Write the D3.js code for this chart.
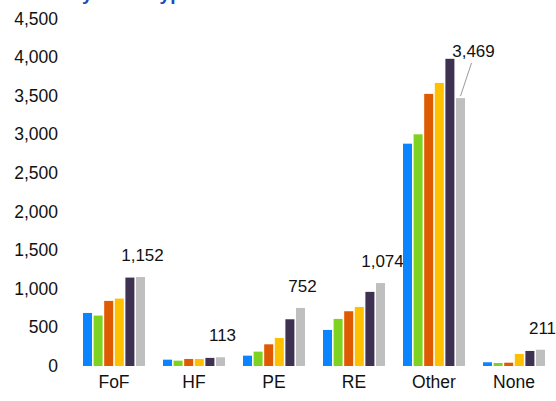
<!DOCTYPE html>
<html>
<head>
<meta charset="utf-8">
<script src="https://cdn.jsdelivr.net/npm/d3@7"></script>
<style>
  html, body { margin: 0; padding: 0; background: #fff; }
  text { font-family: "Liberation Sans", Arial, sans-serif; }
</style>
</head>
<body>
<svg id="chart" width="556" height="401"></svg>
<script>
// fund types along the x axis
const categories = ["FoF", "HF", "PE", "RE", "Other", "None"];
// six series per category (no legend shown in the picture)
const seriesKeys = ["s1", "s2", "s3", "s4", "s5", "s6"];
const s1 = [687, 82, 134, 467, 2879, 48];
const s2 = [653, 69, 186, 610, 3000, 39];
const s3 = [843, 91, 281, 709, 3524, 43];
const s4 = [873, 91, 363, 765, 3666, 156];
const s5 = [1145, 105, 605, 960, 3978, 195];
const s6 = [1152, 113, 752, 1074, 3469, 211];
const yTicks = [0, 500, 1000, 1500, 2000, 2500, 3000, 3500, 4000, 4500];
const colors = ["#0a84ff", "#7ed321", "#de5b00", "#ffc000", "#3f3151", "#bfbfbf"];

const seriesValues = [s1, s2, s3, s4, s5, s6];
const data = categories.map((c, i) => ({
    cat: c,
    values: seriesKeys.map((k, j) => ({ key: k, value: seriesValues[j][i] }))
}));

const font = "'Liberation Sans', Arial, sans-serif";
const svg = d3.select("#chart");

// title, mostly cropped off the top in the original
svg.append("text")
    .attr("x", 8).attr("y", 0)
    .attr("font-size", 19).attr("font-weight", "bold")
    .attr("fill", "#1f4bb4")
    .style("font-family", font)
    .text("Funds by Fund Type");

const x0 = d3.scaleBand().domain(categories).range([74, 554])
    .paddingInner(0.225).paddingOuter(0.1125);
const x1 = d3.scaleBand().domain(seriesKeys).range([0, x0.bandwidth()])
    .paddingInner(0.15).paddingOuter(0);
const y = d3.scaleLinear().domain([0, 4500]).range([366, 18.5]);
const color = d3.scaleOrdinal().domain(seriesKeys).range(colors);

// y axis: labels only
const yAxis = svg.append("g")
    .attr("transform", "translate(60,0)")
    .call(d3.axisLeft(y).tickValues(yTicks).tickFormat(d3.format(",")).tickSize(0).tickPadding(2));
yAxis.select(".domain").remove();
yAxis.selectAll("text").attr("font-size", 17.5).attr("fill", "#111")
    .style("font-family", font);

// x axis: labels only
const xAxis = svg.append("g")
    .attr("transform", "translate(0,366)")
    .call(d3.axisBottom(x0).tickSize(0).tickPadding(10));
xAxis.select(".domain").remove();
xAxis.selectAll("text").attr("font-size", 17.5).attr("fill", "#111")
    .style("font-family", font);

const groups = svg.selectAll(".group")
    .data(data)
    .join("g")
    .attr("class", "group")
    .attr("transform", d => `translate(${x0(d.cat)},0)`);

groups.selectAll("rect")
    .data(d => d.values)
    .join("rect")
    .attr("x", d => x1(d.key))
    .attr("width", x1.bandwidth())
    .attr("y", d => y(d.value))
    .attr("height", d => y(0) - y(d.value))
    .attr("fill", d => color(d.key));

// labels on the last series
const last = seriesKeys[seriesKeys.length - 1];
groups.each(function(d) {
    const g = d3.select(this);
    const v = d.values.find(e => e.key === last).value;
    const cx = x1(last) + x1.bandwidth() / 2;
    if (d.cat === "Other") {
        // label lifted above the tallest bar with a leader line
        const lx = cx + 13, ly = 57;
        g.append("line")
            .attr("x1", lx - 2).attr("y1", ly + 6)
            .attr("x2", cx).attr("y2", y(v) - 2)
            .attr("stroke", "#999").attr("stroke-width", 1);
        g.append("text")
            .attr("x", lx).attr("y", ly)
            .attr("text-anchor", "middle")
            .attr("font-size", 17).attr("fill", "#111")
            .style("font-family", font)
            .text(d3.format(",")(v));
    } else {
        g.append("text")
            .attr("x", cx + 2).attr("y", y(v) - 16)
            .attr("text-anchor", "middle")
            .attr("font-size", 17).attr("fill", "#111")
            .style("font-family", font)
            .text(d3.format(",")(v));
    }
});
</script>
</body>
</html>
